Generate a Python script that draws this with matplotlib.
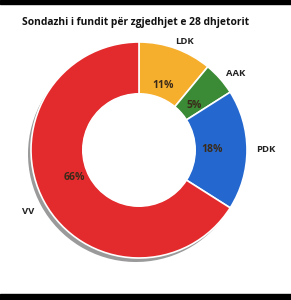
import matplotlib.pyplot as plt
from matplotlib.patches import Rectangle, Circle

# poll data
parties = ['LDK', 'AAK', 'PDK', 'VV']
shares = [11, 5, 18, 66]
colors = ['#F6AE2D', '#3B8A36', '#2468CF', '#E32A2C']

title = 'Sondazhi i fundit për zgjedhjet e 28 dhjetorit'

W, H = 291, 300
fig = plt.figure(figsize=(W / 100, H / 100), dpi=100)
ax = fig.add_axes([0, 0, 1, 1])

cx, cy, r = 139, H - 150, 108
ring = r * 0.48

# gray shadow / extrusion behind the ring
ax.pie(shares, radius=r, center=(cx - 3, cy - 4), startangle=90, counterclock=False,
       colors=['#9a9a9a'] * 4, wedgeprops=dict(width=ring, linewidth=0))

wedges, _ = ax.pie(shares, radius=r, center=(cx, cy), startangle=90, counterclock=False,
                   colors=colors,
                   wedgeprops=dict(width=ring, edgecolor='white', linewidth=1.2))

# keep the hole clean
ax.add_patch(Circle((cx, cy), r - ring - 0.5, color='white', zorder=3))

ax.set_xlim(0, W)
ax.set_ylim(0, H)
ax.set_aspect('equal')
ax.axis('off')

# labels outside and percentages inside (pixel positions from the picture)
label_pos = [(185, 42), (236, 73), (266, 150), (28, 211)]
pct_pos = [(163, 86), (194, 105), (212, 149), (74, 177)]
for name, val, (lx, ly), (px, py) in zip(parties, shares, label_pos, pct_pos):
    ax.text(lx, H - ly, name, ha='center', va='center', fontsize=6.8,
            fontweight='bold', family='Open Sans', color='#222222', zorder=4)
    ax.text(px, H - py, f'{val}%', ha='center', va='center', fontsize=7.5,
            fontweight='bold', family='Open Sans', color='#3a2a1a', zorder=4)

ax.text(22, H - 22, title, ha='left', va='center', fontsize=7.4,
        fontweight='bold', family='Open Sans', color='#111111')

# black bars top and bottom (screenshot borders)
ax.add_patch(Rectangle((0, H - 4), W, 4, color='black', zorder=5))
ax.add_patch(Rectangle((0, 0), W, 6, color='black', zorder=5))

plt.savefig('out.png', dpi=100)
